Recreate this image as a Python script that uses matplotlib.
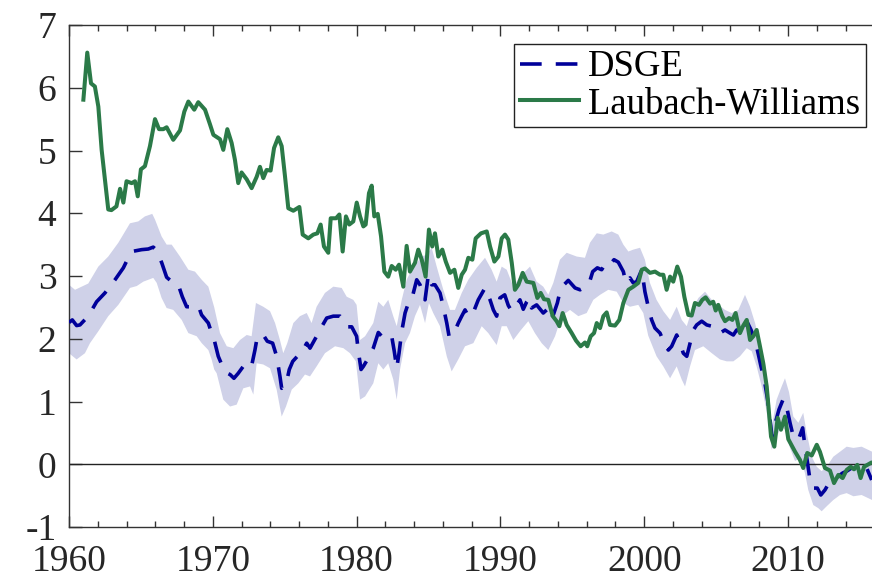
import numpy as np
import matplotlib.pyplot as plt

# ---------------------------------------
# Laubach-Williams estimate
# ---------------------------------------
lw_year = [
    1961.00, 1961.27, 1961.53, 1961.80, 1962.04, 1962.27, 1962.50, 1962.73, 1962.95, 1963.30,
    1963.55, 1963.78, 1964.00, 1964.36, 1964.59, 1964.78, 1965.00, 1965.28, 1965.63, 1965.98,
    1966.26, 1966.56, 1966.79, 1967.25, 1967.72, 1968.02, 1968.30, 1968.71, 1968.99, 1969.46,
    1969.80, 1970.04, 1970.50, 1970.73, 1971.01, 1971.31, 1971.54, 1971.77, 1972.00, 1972.36,
    1972.70, 1973.05, 1973.28, 1973.51, 1973.74, 1974.02, 1974.26, 1974.55, 1974.79, 1975.02,
    1975.25, 1975.60, 1976.02, 1976.25, 1976.64, 1976.99, 1977.27, 1977.50, 1977.73, 1978.03,
    1978.20, 1978.57, 1978.80, 1979.03, 1979.26, 1979.49, 1979.77, 1980.01, 1980.24, 1980.47,
    1980.63, 1980.86, 1981.05, 1981.23, 1981.47, 1981.70, 1981.93, 1982.20, 1982.44, 1982.72,
    1982.95, 1983.25, 1983.48, 1983.71, 1984.06, 1984.29, 1984.53, 1984.80, 1985.03, 1985.26,
    1985.45, 1985.68, 1985.96, 1986.20, 1986.50, 1986.80, 1987.07, 1987.31, 1987.54, 1987.77,
    1988.05, 1988.28, 1988.65, 1989.05, 1989.28, 1989.58, 1989.86, 1990.09, 1990.32, 1990.55,
    1990.79, 1991.01, 1991.25, 1991.55, 1991.83, 1992.29, 1992.57, 1992.80, 1993.03, 1993.33,
    1993.64, 1993.91, 1994.10, 1994.33, 1994.61, 1994.96, 1995.26, 1995.58, 1995.88, 1996.04,
    1996.28, 1996.51, 1996.70, 1996.93, 1997.16, 1997.39, 1997.62, 1997.97, 1998.27, 1998.55,
    1998.90, 1999.24, 1999.59, 1999.83, 2000.05, 2000.40, 2000.75, 2001.10, 2001.33, 2001.56,
    2001.80, 2002.02, 2002.30, 2002.56, 2002.79, 2003.07, 2003.30, 2003.53, 2003.81, 2004.04,
    2004.27, 2004.58, 2004.80, 2004.97, 2005.15, 2005.43, 2005.62, 2005.90, 2006.13, 2006.36,
    2006.66, 2006.89, 2007.13, 2007.36, 2007.59, 2007.82, 2008.05, 2008.28, 2008.52, 2008.68,
    2008.82, 2009.05, 2009.28, 2009.51, 2009.79, 2010.02, 2010.49, 2010.83, 2011.06, 2011.34,
    2011.65, 2012.00, 2012.22, 2012.57, 2012.92, 2013.20, 2013.50, 2013.80, 2014.08, 2014.36,
    2014.59, 2014.82, 2015.05, 2015.29, 2015.52, 2015.75,
]
lw_rate = [
    5.81, 6.56, 6.07, 6.02, 5.70, 5.01, 4.53, 4.06, 4.05, 4.11,
    4.39, 4.17, 4.51, 4.48, 4.51, 4.27, 4.70, 4.75, 5.07, 5.50,
    5.34, 5.34, 5.37, 5.17, 5.32, 5.62, 5.78, 5.65, 5.77, 5.65,
    5.42, 5.25, 5.18, 5.01, 5.34, 5.12, 4.85, 4.48, 4.65, 4.54,
    4.40, 4.58, 4.74, 4.56, 4.69, 4.68, 5.04, 5.21, 5.07, 4.59,
    4.08, 4.04, 4.10, 3.66, 3.60, 3.66, 3.68, 3.82, 3.47, 3.37,
    3.92, 3.92, 3.98, 3.39, 3.95, 3.82, 3.87, 4.17, 3.95, 3.79,
    3.82, 4.32, 4.44, 3.95, 3.99, 3.63, 3.07, 2.99, 3.16, 3.10,
    3.18, 2.83, 3.48, 3.07, 3.21, 3.42, 3.26, 2.99, 3.74, 3.47,
    3.68, 3.31, 3.42, 3.23, 3.05, 3.10, 2.81, 3.02, 3.10, 3.29,
    3.26, 3.60, 3.68, 3.71, 3.47, 3.23, 3.31, 3.60, 3.66, 3.58,
    3.21, 2.78, 2.86, 3.05, 2.91, 2.89, 2.65, 2.73, 2.63, 2.62,
    2.36, 2.28, 2.20, 2.41, 2.22, 2.09, 1.97, 1.88, 1.94, 1.88,
    2.04, 2.09, 2.25, 2.17, 2.36, 2.42, 2.22, 2.21, 2.30, 2.57,
    2.78, 2.83, 2.89, 3.10, 3.12, 3.05, 3.07, 3.02, 3.02, 2.78,
    2.99, 2.91, 3.15, 2.99, 2.67, 2.38, 2.37, 2.57, 2.54, 2.62,
    2.66, 2.56, 2.59, 2.45, 2.54, 2.36, 2.28, 2.33, 2.30, 2.41,
    2.09, 2.21, 2.30, 1.98, 2.04, 2.14, 1.88, 1.61, 1.24, 0.82,
    0.44, 0.28, 0.74, 0.55, 0.76, 0.40, 0.20, 0.07, -0.06, 0.18,
    0.14, 0.31, 0.20, -0.06, -0.10, -0.30, -0.17, -0.22, -0.09, -0.04,
    -0.08, -0.01, -0.22, -0.04, -0.01, 0.02,
]

# ---------------------------------------
# DSGE estimate (posterior mean)
# ---------------------------------------
dsge_year = [
    1960.00, 1960.23, 1960.53, 1960.76, 1961.34, 1961.92, 1962.50, 1963.20, 1963.78, 1964.12,
    1964.36, 1965.05, 1965.51, 1965.86, 1966.10, 1966.45, 1966.79, 1967.25, 1967.60, 1967.88,
    1968.18, 1968.64, 1968.99, 1969.22, 1969.69, 1969.92, 1970.10, 1970.38, 1970.62, 1970.92,
    1971.20, 1971.47, 1971.77, 1972.12, 1972.40, 1972.70, 1972.93, 1973.10, 1973.51, 1973.79,
    1974.16, 1974.44, 1974.67, 1974.79, 1975.09, 1975.32, 1975.56, 1975.88, 1976.11, 1976.53,
    1976.76, 1977.22, 1977.57, 1977.92, 1978.38, 1978.85, 1979.08, 1979.31, 1979.66, 1980.00,
    1980.12, 1980.31, 1980.47, 1980.81, 1981.16, 1981.51, 1981.86, 1982.09, 1982.44, 1982.62,
    1982.79, 1982.95, 1983.14, 1983.37, 1983.60, 1983.88, 1984.18, 1984.41, 1984.76, 1984.99,
    1985.22, 1985.45, 1985.80, 1986.03, 1986.27, 1986.43, 1986.72, 1987.07, 1987.31, 1987.54,
    1987.77, 1988.05, 1988.46, 1988.93, 1989.28, 1989.51, 1989.74, 1989.97, 1990.30, 1990.55,
    1990.79, 1991.02, 1991.36, 1991.59, 1991.83, 1992.01, 1992.17, 1992.52, 1992.80, 1992.98,
    1993.22, 1993.45, 1993.68, 1993.96, 1994.14, 1994.42, 1994.72, 1995.19, 1995.54, 1995.95,
    1996.18, 1996.42, 1996.74, 1997.04, 1997.34, 1997.62, 1997.90, 1998.20, 1998.55, 1998.73,
    1999.01, 1999.24, 1999.48, 1999.83, 2000.05, 2000.28, 2000.52, 2000.75, 2001.10, 2001.45,
    2001.68, 2001.91, 2002.26, 2002.49, 2002.72, 2002.96, 2003.19, 2003.42, 2003.65, 2004.00,
    2004.35, 2004.70, 2004.97, 2005.27, 2005.62, 2005.97, 2006.20, 2006.43, 2006.78, 2007.13,
    2007.43, 2007.71, 2007.94, 2008.12, 2008.35, 2008.58, 2008.75, 2008.90, 2009.14, 2009.37,
    2009.67, 2009.90, 2010.14, 2010.37, 2010.72, 2011.02, 2011.18, 2011.34, 2011.53, 2011.76,
    2012.04, 2012.28, 2012.57, 2012.92, 2013.20, 2013.50, 2013.80, 2014.08, 2014.42, 2014.77,
    2015.12, 2015.47, 2015.82,
]
dsge_rate = [
    2.26, 2.30, 2.21, 2.22, 2.36, 2.59, 2.73, 2.94, 3.13, 3.29,
    3.39, 3.42, 3.43, 3.46, 3.41, 3.21, 2.98, 2.89, 2.86, 2.67,
    2.51, 2.51, 2.53, 2.38, 2.25, 2.09, 1.98, 1.72, 1.59, 1.46,
    1.43, 1.37, 1.45, 1.56, 1.62, 1.57, 1.82, 2.04, 2.06, 1.96,
    1.93, 1.72, 1.40, 1.21, 1.27, 1.51, 1.64, 1.72, 1.75, 1.93,
    1.85, 2.04, 2.19, 2.33, 2.36, 2.36, 2.30, 2.19, 2.19, 2.04,
    1.80, 1.51, 1.56, 1.69, 1.85, 2.10, 2.01, 2.04, 2.04, 1.80,
    1.53, 1.77, 2.12, 2.41, 2.57, 2.67, 2.94, 2.86, 2.62, 3.02,
    2.86, 2.86, 2.73, 2.51, 2.25, 2.04, 2.06, 2.25, 2.36, 2.46,
    2.36, 2.38, 2.62, 2.81, 2.62, 2.46, 2.36, 2.65, 2.70, 2.53,
    2.44, 2.50, 2.62, 2.47, 2.59, 2.65, 2.49, 2.54, 2.46, 2.41,
    2.46, 2.30, 2.38, 2.57, 2.75, 2.86, 2.93, 2.81, 2.78, 2.83,
    2.89, 3.07, 3.13, 3.10, 3.21, 3.18, 3.26, 3.22, 3.07, 2.89,
    2.97, 2.89, 2.91, 3.10, 2.75, 2.51, 2.30, 2.17, 2.09, 1.90,
    1.82, 1.88, 2.06, 1.93, 1.77, 1.72, 1.93, 2.14, 2.22, 2.28,
    2.22, 2.20, 2.17, 2.09, 2.14, 2.09, 2.06, 2.14, 2.06, 2.28,
    2.14, 1.98, 1.75, 1.56, 1.35, 1.03, 0.71, 0.42, 0.68, 0.87,
    1.04, 0.92, 0.66, 0.44, 0.39, 0.58, 0.28, 0.05, -0.25, -0.38,
    -0.38, -0.49, -0.41, -0.27, -0.25, -0.19, -0.14, -0.11, -0.06, -0.08,
    -0.02, -0.06, -0.25,
]

# credible band, upper edge
band_hi_year = [
    1960.00, 1960.42, 1960.88, 1961.34, 1962.04, 1962.73, 1963.43, 1964.24, 1964.82, 1965.28,
    1965.79, 1965.98, 1966.44, 1966.79, 1967.14, 1967.72, 1968.30, 1968.76, 1969.23, 1969.69,
    1970.10, 1970.50, 1970.97, 1971.43, 1971.89, 1972.36, 1972.70, 1973.00, 1973.51, 1973.98,
    1974.33, 1974.67, 1974.90, 1975.18, 1975.60, 1976.06, 1976.53, 1976.87, 1977.22, 1977.80,
    1978.38, 1978.96, 1979.31, 1979.77, 1980.00, 1980.24, 1980.59, 1981.16, 1981.51, 1981.86,
    1982.20, 1982.55, 1982.79, 1983.14, 1983.48, 1983.83, 1984.18, 1984.53, 1984.87, 1985.22,
    1985.57, 1986.03, 1986.50, 1986.84, 1987.31, 1987.77, 1988.35, 1988.93, 1989.39, 1989.74,
    1990.09, 1990.44, 1990.90, 1991.36, 1992.06, 1992.52, 1992.98, 1993.33, 1993.68, 1994.14,
    1994.61, 1995.31, 1995.88, 1996.23, 1996.70, 1997.16, 1997.74, 1998.20, 1998.55, 1998.90,
    1999.24, 1999.71, 2000.05, 2000.40, 2000.86, 2001.33, 2001.80, 2002.26, 2002.61, 2002.96,
    2003.31, 2003.77, 2004.23, 2004.70, 2005.15, 2005.62, 2006.08, 2006.55, 2007.01, 2007.36,
    2007.71, 2008.05, 2008.40, 2008.68, 2008.87, 2009.21, 2009.56, 2009.79, 2010.07, 2010.37,
    2010.72, 2011.06, 2011.30, 2011.65, 2012.00, 2012.34, 2012.69, 2013.15, 2013.62, 2014.08,
    2014.55, 2015.12, 2015.85,
]
band_hi = [
    2.86, 2.78, 2.83, 2.88, 3.15, 3.31, 3.53, 3.84, 3.87, 3.95,
    3.99, 3.90, 3.63, 3.50, 3.50, 3.31, 3.10, 3.07, 2.94, 2.83,
    2.50, 2.09, 1.88, 1.85, 1.98, 2.06, 2.04, 2.57, 2.51, 2.44,
    2.25, 1.98, 1.77, 1.93, 2.25, 2.36, 2.41, 2.25, 2.51, 2.73,
    2.83, 2.81, 2.67, 2.62, 2.54, 1.98, 2.04, 2.25, 2.59, 2.51,
    2.62, 2.36, 2.20, 2.62, 2.94, 3.10, 3.21, 3.31, 3.34, 3.45,
    3.15, 2.78, 2.46, 2.46, 2.73, 2.94, 3.13, 3.29, 3.10, 2.91,
    3.15, 3.10, 2.83, 2.99, 3.15, 2.91, 2.83, 2.70, 2.89, 3.26,
    3.37, 3.31, 3.29, 3.53, 3.68, 3.66, 3.71, 3.66, 3.50, 3.39,
    3.42, 3.45, 3.26, 2.89, 2.62, 2.44, 2.30, 2.51, 2.30, 2.20,
    2.46, 2.65, 2.75, 2.62, 2.54, 2.46, 2.41, 2.46, 2.70, 2.51,
    2.25, 1.93, 1.61, 1.13, 0.60, 1.03, 1.24, 1.37, 1.15, 0.76,
    0.66, 0.82, 0.50, 0.12, -0.04, -0.11, -0.04, 0.12, 0.20, 0.28,
    0.26, 0.28, 0.20,
]

# credible band, lower edge
band_lo_year = [
    1960.00, 1960.53, 1961.11, 1961.46, 1962.04, 1962.73, 1963.43, 1964.24, 1964.71, 1965.17,
    1965.86, 1966.10, 1966.44, 1966.79, 1967.25, 1967.84, 1968.30, 1968.88, 1969.23, 1969.69,
    1969.92, 1970.10, 1970.27, 1970.73, 1971.20, 1971.66, 1972.12, 1972.59, 1972.82, 1973.05,
    1973.51, 1973.98, 1974.44, 1974.79, 1975.09, 1975.49, 1975.95, 1976.41, 1976.76, 1977.22,
    1977.80, 1978.50, 1979.08, 1979.54, 1979.95, 1980.24, 1980.59, 1981.16, 1981.51, 1981.86,
    1982.20, 1982.55, 1982.79, 1983.02, 1983.37, 1983.71, 1984.06, 1984.41, 1984.76, 1985.03,
    1985.33, 1985.80, 1986.27, 1986.61, 1987.07, 1987.54, 1988.12, 1988.70, 1989.16, 1989.74,
    1990.09, 1990.44, 1990.90, 1991.36, 1991.94, 1992.40, 1992.87, 1993.33, 1993.80, 1994.26,
    1994.84, 1995.42, 1996.00, 1996.46, 1996.93, 1997.50, 1998.09, 1998.55, 1999.01, 1999.59,
    1999.94, 2000.28, 2000.86, 2001.33, 2001.80, 2002.26, 2002.61, 2002.84, 2003.19, 2003.53,
    2004.11, 2004.70, 2005.27, 2005.74, 2006.20, 2006.66, 2007.13, 2007.48, 2007.82, 2008.17,
    2008.45, 2008.68, 2008.87, 2009.21, 2009.56, 2009.79, 2010.14, 2010.49, 2010.83, 2011.18,
    2011.41, 2011.76, 2012.11, 2012.34, 2012.69, 2013.15, 2013.62, 2014.08, 2014.55, 2015.12,
    2015.85,
]
band_lo = [
    1.77, 1.67, 1.77, 1.93, 2.12, 2.36, 2.54, 2.81, 2.84, 2.91,
    2.97, 2.89, 2.65, 2.49, 2.46, 2.30, 2.09, 2.04, 1.93, 1.82,
    1.67, 1.51, 1.45, 1.03, 0.92, 0.95, 1.21, 1.24, 1.11, 1.61,
    1.59, 1.53, 1.19, 0.76, 0.92, 1.19, 1.29, 1.43, 1.40, 1.56,
    1.77, 1.88, 1.85, 1.77, 1.64, 1.03, 1.08, 1.29, 1.61, 1.51,
    1.61, 1.35, 1.03, 1.51, 1.93, 2.09, 2.36, 2.54, 2.25, 2.57,
    2.41, 2.20, 1.72, 1.48, 1.67, 1.88, 1.93, 2.20, 2.09, 1.90,
    2.20, 2.20, 1.98, 2.12, 2.28, 2.09, 1.93, 1.82, 2.04, 2.36,
    2.46, 2.36, 2.41, 2.62, 2.70, 2.78, 2.75, 2.57, 2.51, 2.54,
    2.41, 2.05, 1.72, 1.56, 1.37, 1.56, 1.35, 1.24, 1.56, 1.82,
    1.88, 1.77, 1.67, 1.64, 1.64, 1.72, 1.85, 1.80, 1.56, 1.24,
    0.92, 0.60, 0.23, 0.44, 0.60, 0.55, 0.26, 0.05, 0.10, -0.14,
    -0.41, -0.65, -0.70, -0.75, -0.67, -0.57, -0.49, -0.46, -0.51, -0.49,
    -0.57,
]

x_ticks = [1960, 1970, 1980, 1990, 2000, 2010]
y_ticks = [-1, 0, 1, 2, 3, 4, 5, 6, 7]


def main():
    plt.rcParams['font.family'] = ['Liberation Serif', 'DejaVu Serif']
    plt.rcParams['axes.unicode_minus'] = False

    fig = plt.figure(figsize=(8.72, 5.79), dpi=100)
    ax = fig.add_axes([69 / 872, 1 - 527 / 579, 1 - 69 / 872, 502 / 579])

    # band as a closed polygon: upper edge then lower edge reversed
    poly_x = np.concatenate([band_hi_year, band_lo_year[::-1]])
    poly_y = np.concatenate([band_hi, band_lo[::-1]])
    ax.fill(poly_x, poly_y, color='#cfd1e8', linewidth=0, zorder=1)

    ax.axhline(0, color='#222222', linewidth=1.0, zorder=2)

    ax.plot(dsge_year, dsge_rate, color='#00009a', linewidth=2.6,
            linestyle=(0, (6.0, 3.9)), label='DSGE', zorder=3)
    ax.plot(lw_year, lw_rate, color='#2b7a48', linewidth=2.9,
            label='Laubach-Williams', zorder=4)

    ax.set_xlim(1960, 1960 + (872 - 69) / 14.38)
    ax.set_ylim(-1, 7)
    ax.set_xticks(x_ticks)
    ax.set_xticks(np.arange(1962, 2016, 2), minor=True)
    ax.set_yticks(y_ticks)

    ax.tick_params(axis='both', which='both', direction='in', colors='#333333',
                   labelcolor='#262626', labelsize=27, width=1.0)
    ax.tick_params(axis='x', which='both', top=True)
    ax.tick_params(axis='x', which='major', length=8, pad=12.5)
    ax.tick_params(axis='x', which='minor', length=4)
    ax.tick_params(axis='y', which='major', length=9, pad=9)

    for side in ['left', 'bottom', 'top']:
        ax.spines[side].set_color('#333333')
        ax.spines[side].set_linewidth(1.0)
    ax.spines['right'].set_visible(False)

    leg = ax.legend(loc='upper right', bbox_to_anchor=(0.9925, 0.962),
                    fontsize=26.5, frameon=True, fancybox=False,
                    edgecolor='#222222', framealpha=1, borderpad=0.16,
                    labelspacing=0.06, handlelength=1.6, handletextpad=0.25,
                    borderaxespad=0)
    leg.get_frame().set_linewidth(1.0)

    plt.savefig('out.png', dpi=100)


if __name__ == "__main__":
    main()
